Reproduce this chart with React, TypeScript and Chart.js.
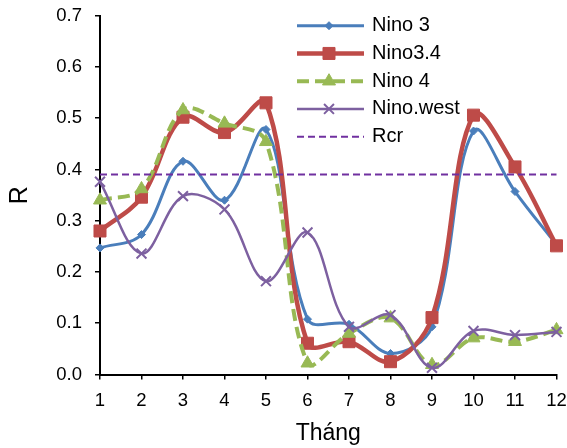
import React, { useEffect, useRef } from 'react';
import { Chart, registerables } from 'chart.js';

Chart.register(...registerables);

const months = ['1', '2', '3', '4', '5', '6', '7', '8', '9', '10', '11', '12'];
const nino3 = [0.247, 0.273, 0.416, 0.34, 0.478, 0.108, 0.098, 0.041, 0.093, 0.475, 0.357, 0.253];
const nino34 = [0.28, 0.346, 0.502, 0.472, 0.53, 0.061, 0.064, 0.025, 0.111, 0.506, 0.405, 0.251];
const nino4 = [0.34, 0.362, 0.516, 0.49, 0.454, 0.022, 0.08, 0.11, 0.019, 0.071, 0.064, 0.087];
const ninoWest = [0.376, 0.236, 0.348, 0.322, 0.182, 0.277, 0.093, 0.116, 0.013, 0.085, 0.077, 0.083];
const rcrValue = 0.39;
const rcr = months.map(() => rcrValue);

const FONT = "'Liberation Sans', Arial, sans-serif";

function drawMarker(ctx: CanvasRenderingContext2D, style: string, x: number, y: number, r: number, color: string, bw: number) {
  ctx.save();
  ctx.setLineDash([]);
  ctx.fillStyle = color;
  ctx.strokeStyle = color;
  ctx.lineWidth = bw;
  ctx.beginPath();
  if (style === 'rectRot') {
    ctx.moveTo(x - r, y);
    ctx.lineTo(x, y - r);
    ctx.lineTo(x + r, y);
    ctx.lineTo(x, y + r);
    ctx.closePath();
    ctx.fill();
    ctx.stroke();
  } else if (style === 'rect') {
    const s = r * Math.SQRT1_2;
    ctx.rect(x - s, y - s, 2 * s, 2 * s);
    ctx.fill();
    ctx.stroke();
  } else if (style === 'triangle') {
    for (let i = 0; i < 3; i++) {
      const a = (i * 2 * Math.PI) / 3;
      const px = x + Math.sin(a) * r;
      const py = y - Math.cos(a) * r;
      if (i === 0) ctx.moveTo(px, py);
      else ctx.lineTo(px, py);
    }
    ctx.closePath();
    ctx.fill();
    ctx.stroke();
  } else if (style === 'crossRot') {
    const s = r * Math.SQRT1_2;
    ctx.moveTo(x - s, y - s);
    ctx.lineTo(x + s, y + s);
    ctx.moveTo(x - s, y + s);
    ctx.lineTo(x + s, y - s);
    ctx.stroke();
  }
  ctx.restore();
}

const legendPlugin = {
  id: 'customLegend',
  afterDraw(chart: any) {
    const ctx: CanvasRenderingContext2D = chart.ctx;
    const x0 = 297;
    const x1 = 364;
    const mx = 329;
    const tx = 372;
    const y0 = 25.7;
    const dy = 27.75;
    chart.data.datasets.forEach((ds: any, i: number) => {
      const y = y0 + i * dy;
      ctx.save();
      ctx.strokeStyle = ds.borderColor;
      ctx.lineWidth = ds.borderWidth;
      ctx.setLineDash(ds.borderDash || []);
      ctx.beginPath();
      ctx.moveTo(x0, y);
      ctx.lineTo(x1, y);
      ctx.stroke();
      ctx.restore();
      if (ds.pointRadius > 0) {
        drawMarker(ctx, ds.pointStyle, mx, y, ds.pointRadius, ds.pointBackgroundColor, ds.pointBorderWidth);
      }
      ctx.save();
      ctx.fillStyle = '#000';
      ctx.font = `20px ${FONT}`;
      ctx.textBaseline = 'middle';
      ctx.textAlign = 'left';
      ctx.fillText(ds.label, tx, y);
      ctx.restore();
    });
  },
};

export default function App() {
  const ref = useRef<HTMLCanvasElement | null>(null);
  useEffect(() => {
    if (!ref.current) return;
    const chart = new Chart(ref.current, {
      type: 'line',
      data: {
        labels: months,
        datasets: [
          {
            label: 'Nino 3',
            data: nino3,
            borderColor: '#4A7EBB',
            backgroundColor: '#4A7EBB',
            borderWidth: 3,
            pointStyle: 'rectRot',
            pointRadius: 4,
            pointBackgroundColor: '#4A7EBB',
            pointBorderColor: '#4A7EBB',
            pointBorderWidth: 1,
            tension: 0.36,
            order: 5,
          },
          {
            label: 'Nino3.4',
            data: nino34,
            borderColor: '#BE4B48',
            backgroundColor: '#BE4B48',
            borderWidth: 4.5,
            pointStyle: 'rect',
            pointRadius: 8.5,
            pointBackgroundColor: '#BE4B48',
            pointBorderColor: '#BE4B48',
            pointBorderWidth: 1,
            tension: 0.36,
            order: 4,
          },
          {
            label: 'Nino 4',
            data: nino4,
            borderColor: '#98B954',
            backgroundColor: '#98B954',
            borderWidth: 4,
            borderDash: [12, 6],
            pointStyle: 'triangle',
            pointRadius: 7.5,
            pointBackgroundColor: '#98B954',
            pointBorderColor: '#98B954',
            pointBorderWidth: 1,
            tension: 0.36,
            order: 3,
          },
          {
            label: 'Nino.west',
            data: ninoWest,
            borderColor: '#7D60A0',
            backgroundColor: '#7D60A0',
            borderWidth: 2.5,
            pointStyle: 'crossRot',
            pointRadius: 7,
            pointBackgroundColor: '#7D60A0',
            pointBorderColor: '#7D60A0',
            pointBorderWidth: 2,
            tension: 0.36,
            order: 2,
          },
          {
            label: 'Rcr',
            data: rcr,
            borderColor: '#7030A0',
            backgroundColor: '#7030A0',
            borderWidth: 2,
            borderDash: [7, 4],
            pointRadius: 0,
            pointBackgroundColor: '#7030A0',
            pointBorderWidth: 0,
            tension: 0,
            order: 1,
          },
        ] as any,
      },
      options: {
        animation: false,
        responsive: false,
        maintainAspectRatio: false,
        layout: { padding: { left: 0, right: 10.5, top: 15.7, bottom: 0 } },
        plugins: {
          legend: { display: false },
          tooltip: { enabled: false },
        },
        scales: {
          x: {
            type: 'category',
            offset: false,
            grid: {
              offset: false,
              drawOnChartArea: false,
              drawTicks: true,
              tickLength: 5,
              color: '#000',
              lineWidth: 1.5,
            },
            border: { display: true, color: '#000', width: 2 },
            ticks: {
              color: '#000',
              font: { family: FONT, size: 18.5 },
              padding: 10,
              maxRotation: 0,
              autoSkip: false,
            },
            title: {
              display: true,
              text: 'Tháng',
              color: '#000',
              font: { family: FONT, size: 23 },
              padding: { top: 0, bottom: 1 },
            },
            afterFit(scale: any) {
              scale.height = 73.5;
              scale.paddingLeft = 0;
              scale.paddingRight = 0;
            },
          },
          y: {
            min: 0,
            max: 0.7,
            grid: {
              drawOnChartArea: false,
              drawTicks: true,
              tickLength: 5,
              color: '#000',
              lineWidth: 1.5,
            },
            border: { display: true, color: '#000', width: 2 },
            ticks: {
              stepSize: 0.1,
              color: '#000',
              font: { family: FONT, size: 18.5 },
              padding: 13,
              callback: (v: any) => Number(v).toFixed(1),
            },
            title: {
              display: true,
              text: 'R',
              color: '#000',
              font: { family: FONT, size: 25 },
              padding: { top: 5, bottom: 0 },
            },
            afterFit(scale: any) {
              scale.width = 100;
              scale.paddingTop = 0;
              scale.paddingBottom = 0;
            },
          },
        },
      } as any,
      plugins: [legendPlugin],
    });
    return () => chart.destroy();
  }, []);
  return (
    <div style={{ position: 'absolute', left: 0, top: 0, width: 567, height: 448 }}>
      <canvas ref={ref} width={567} height={448} style={{ display: 'block', width: 567, height: 448 }} />
    </div>
  );
}
